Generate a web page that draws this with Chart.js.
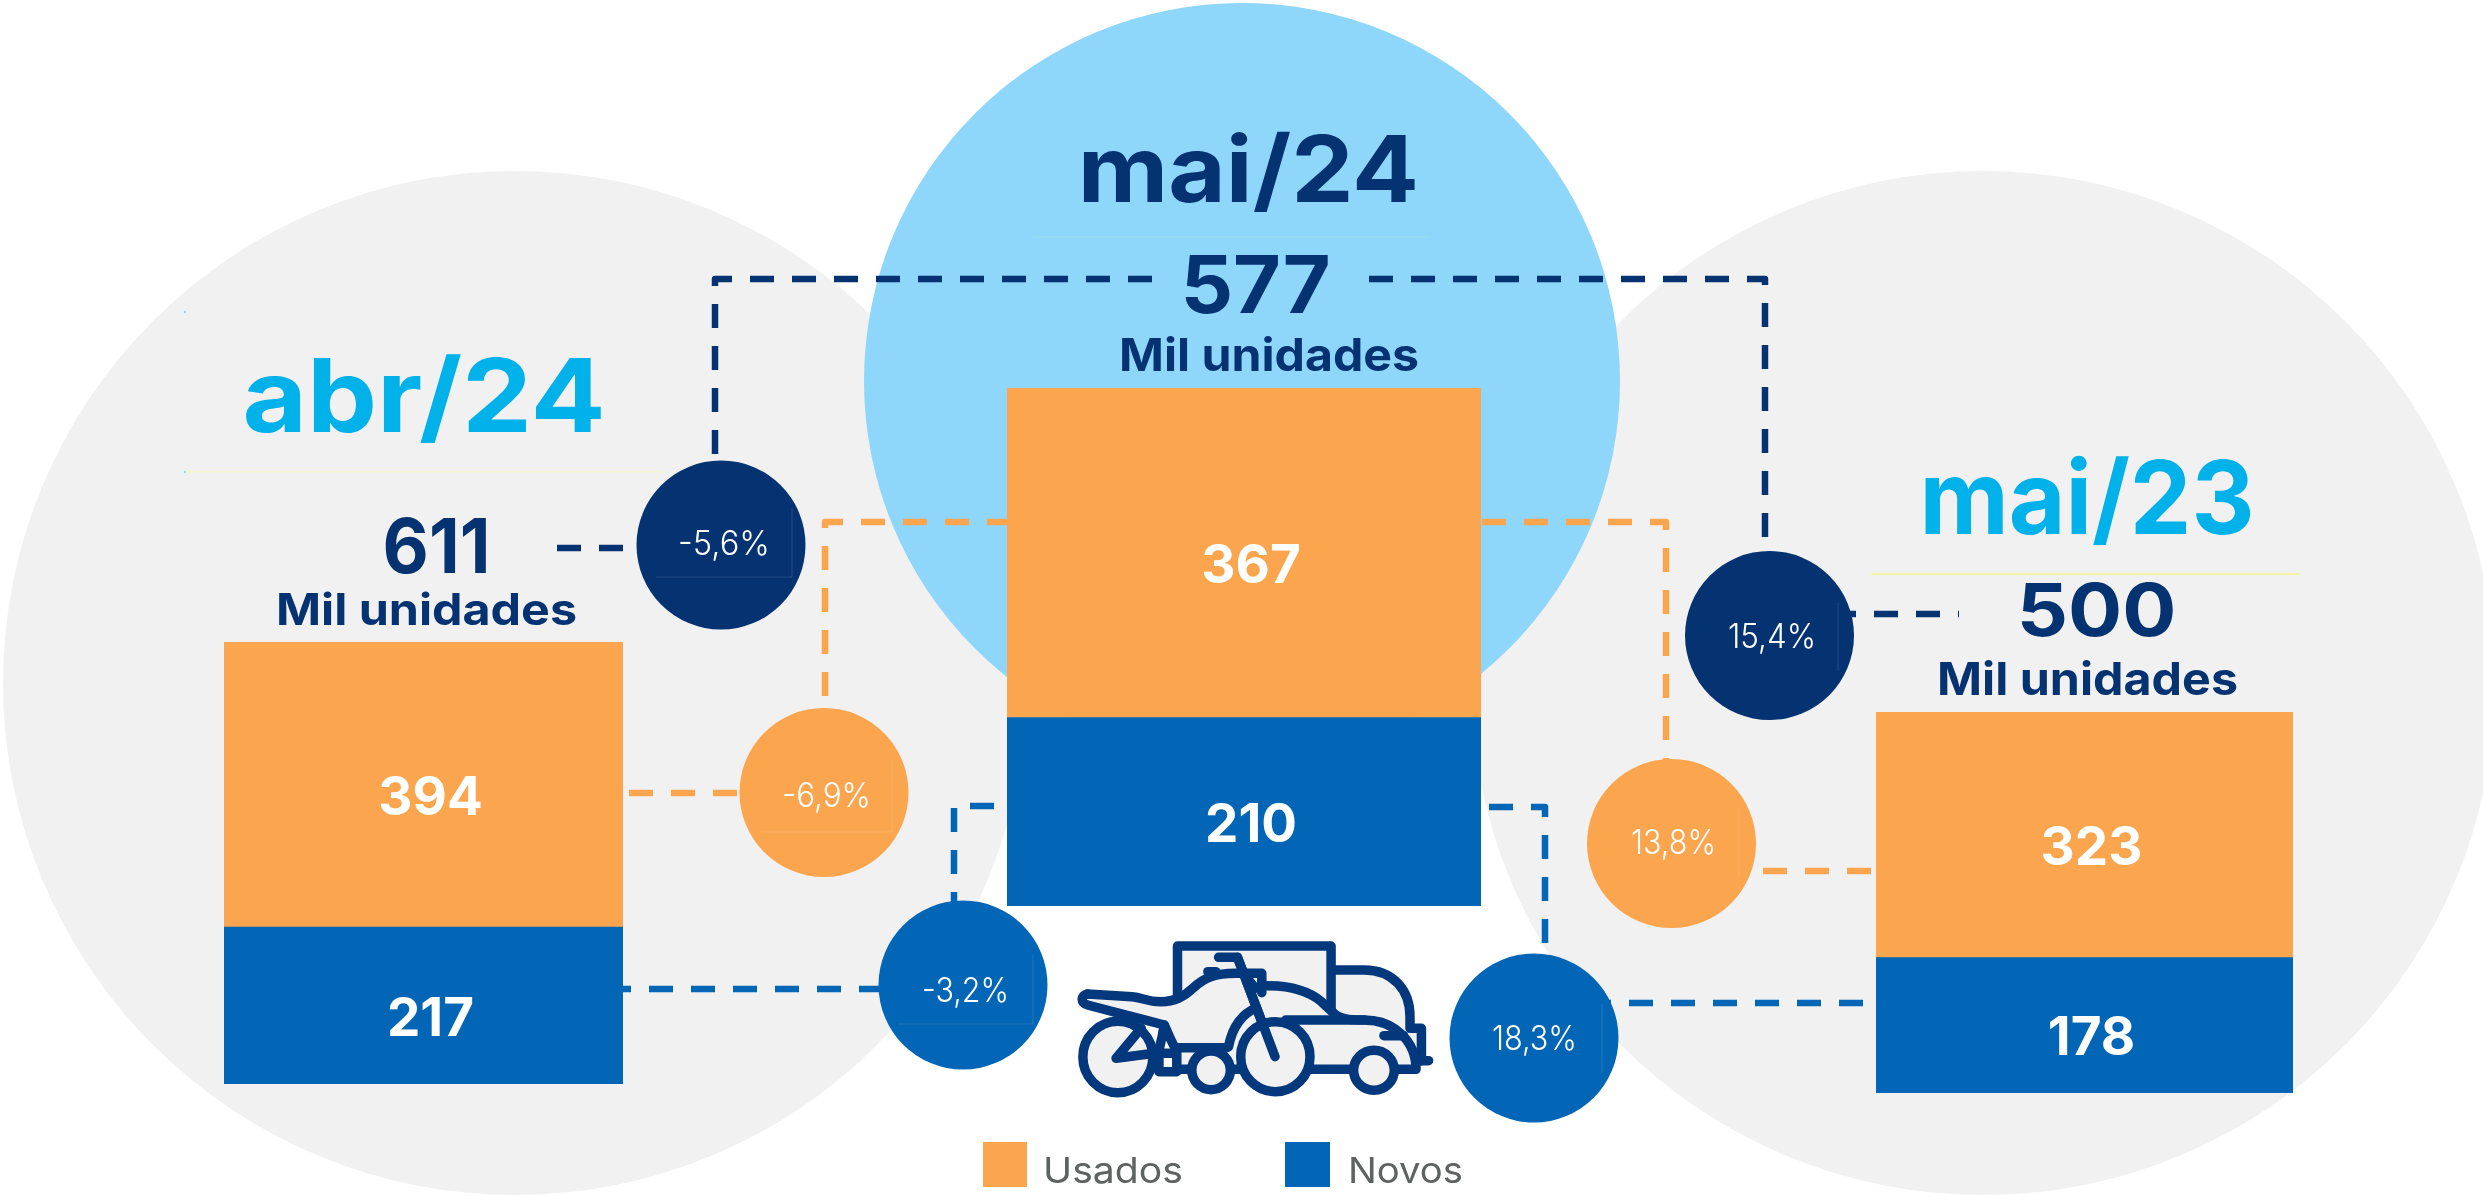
<!DOCTYPE html>
<html lang="pt">
<head>
<meta charset="utf-8">
<title>Vendas de veículos</title>
<script src="https://cdn.jsdelivr.net/npm/chart.js@4/dist/chart.umd.min.js"></script>
<style>
html,body{margin:0;padding:0;background:#fff}
#stage{position:relative;width:2483px;height:1196px;overflow:hidden;background:#fff;font-family:Inter,sans-serif}
#stage svg{position:absolute;left:0;top:0}
.bar{position:absolute}
.bar canvas{display:block}
</style>
</head>
<body>
<div id="stage">
<svg id="back" width="2483" height="1196" viewBox="0 0 2483 1196"></svg>
<div class="bar" id="barHost0"><canvas id="bar0"></canvas></div>
<div class="bar" id="barHost1"><canvas id="bar1"></canvas></div>
<div class="bar" id="barHost2"><canvas id="bar2"></canvas></div>
<svg id="front" width="2483" height="1196" viewBox="0 0 2483 1196"></svg>
</div>
<script>
// ---- data ----
const categories = ['abr/24', 'mai/24', 'mai/23'];
const usados = [394, 367, 323];
const novos = [217, 210, 178];
const totals = [611, 577, 500];
const unitLabel = 'Mil unidades';
const seriesNames = ['Usados', 'Novos'];
const varTotal = ['-5,6%', '15,4%'];
const varUsados = ['-6,9%', '13,8%'];
const varNovos = ['-3,2%', '18,3%'];

// ---- styles ----
const ORANGE = '#fba54f', BLUE = '#0365b5', NAVY = '#053372', CYAN = '#00b1ea',
      GREY = '#f1f1f1', SKY = '#8fd6fb', LEGEND = '#5e6362';
const FONT = 'Inter, sans-serif';

// ---- layout ----
const barBoxes = [
  {x: 224, y: 642, w: 399, h: 442},
  {x: 1007, y: 388, w: 474, h: 518},
  {x: 1876, y: 712, w: 417, h: 381}
];

const NS = 'http://www.w3.org/2000/svg';
function el(parent, tag, attrs, text) {
  const n = document.createElementNS(NS, tag);
  for (const k in attrs) n.setAttribute(k, attrs[k]);
  if (text !== undefined) n.textContent = text;
  parent.appendChild(n);
  return n;
}
const back = document.getElementById('back');
const front = document.getElementById('front');

// background discs
el(back, 'circle', {cx: 515, cy: 683, r: 512, fill: GREY});
el(back, 'circle', {cx: 1983, cy: 683, r: 512, fill: GREY});
el(back, 'circle', {cx: 1242, cy: 381, r: 378, fill: SKY});

// hairlines
el(back, 'rect', {x: 185, y: 471, width: 478, height: 1.5, fill: '#f4f5cc'});
el(back, 'rect', {x: 1871, y: 573, width: 429, height: 2, fill: '#f6f6a6'});
el(back, 'rect', {x: 1034, y: 236.5, width: 396, height: 1, fill: '#9bdceb'});
el(back, 'rect', {x: 184, y: 311, width: 2, height: 2, fill: SKY});
el(back, 'rect', {x: 184, y: 471, width: 2, height: 2, fill: SKY});

// dashed connectors
const dashes = [
  ['M715 454V279H1153', NAVY],
  ['M1369 279H1765V538', NAVY],
  ['M557 548H623', NAVY],
  ['M1832 614H1959', NAVY],
  ['M825 696V522H1007', ORANGE],
  ['M1482 522H1666V761', ORANGE],
  ['M629 793H737', ORANGE],
  ['M1763 871H1871', ORANGE],
  ['M607 989H880', BLUE],
  ['M954 916V806H1007', BLUE],
  ['M1489 807H1545V945', BLUE],
  ['M1587 1003H1863', BLUE]
];
dashes.forEach(d => el(back, 'path', {d: d[0], fill: 'none', stroke: d[1], 'stroke-width': 6.5,
  'stroke-dasharray': '24 18', 'stroke-linejoin': 'round'}));

// change bubbles
const bubbles = [
  {cx: 721, cy: 545, c: NAVY, t: varTotal[0], x1: 678, x2: 770, y: 555, e: 'M792 508V577H656'},
  {cx: 1769.5, cy: 635.5, c: NAVY, t: varTotal[1], x1: 1728, x2: 1816, y: 648, e: 'M1838 603V671'},
  {cx: 824, cy: 792.5, c: ORANGE, t: varUsados[0], x1: 782, x2: 871, y: 807, e: 'M892 759V832H762'},
  {cx: 1671.5, cy: 843.5, c: ORANGE, t: varUsados[1], x1: 1631, x2: 1716, y: 854, e: 'M1739 808V876'},
  {cx: 963, cy: 985, c: BLUE, t: varNovos[0], x1: 922, x2: 1009, y: 1002, e: 'M1033 955V1024H898'},
  {cx: 1534, cy: 1038, c: BLUE, t: varNovos[1], x1: 1492, x2: 1577, y: 1050, e: 'M1602 1004V1073'}
];
bubbles.forEach(b => {
  el(front, 'circle', {cx: b.cx, cy: b.cy, r: 84.5, fill: b.c});
  el(front, 'path', {d: b.e, fill: 'none', stroke: '#ffffff', 'stroke-opacity': .13, 'stroke-width': 1});
  el(front, 'text', {x: b.x1, y: b.y, fill: '#fff', 'font-family': FONT, 'font-weight': 300, 'font-size': 34,
    textLength: b.x2 - b.x1, lengthAdjust: 'spacingAndGlyphs'}, b.t);
});

// headings
function label(txt, x1, x2, y, size, weight, color) {
  const pad = Math.max(3, 0.045 * size);
  el(front, 'text', {x: x1 - pad, y: y, fill: color, 'font-family': FONT, 'font-weight': weight, 'font-size': size,
    textLength: x2 - x1 + 2 * pad, lengthAdjust: 'spacingAndGlyphs'}, txt);
}
label(categories[0], 247, 601, 432, 102, 700, CYAN);
label(categories[1], 1082, 1415, 202, 92, 700, NAVY);
label(categories[2], 1924, 2250, 534, 102, 700, CYAN);
label(String(totals[0]), 386, 487, 573, 76, 700, NAVY);
label(String(totals[1]), 1184, 1327, 313, 80, 700, NAVY);
label(String(totals[2]), 2020, 2173, 636, 73, 700, NAVY);
label(unitLabel, 279, 574, 625, 44, 700, NAVY);
label(unitLabel, 1122, 1416, 371, 45, 700, NAVY);
label(unitLabel, 1940, 2235, 695, 45, 700, NAVY);

// legend
el(front, 'rect', {x: 983, y: 1142, width: 44, height: 45, fill: ORANGE});
el(front, 'rect', {x: 1285, y: 1142, width: 45, height: 45, fill: BLUE});
label(seriesNames[0], 1046, 1180, 1183, 36, 400, LEGEND);
label(seriesNames[1], 1351, 1460, 1183, 36, 400, LEGEND);

// vehicle pictogram (drawn in a local grid)
const icon = el(front, 'g', {transform: 'translate(1000 880) scale(0.35714 0.33333)'});
const st = {fill: 'none', stroke: '#03387c', 'stroke-width': 9.5, 'stroke-linecap': 'round', 'stroke-linejoin': 'round', 'vector-effect': 'non-scaling-stroke'};
const filled = Object.assign({}, st, {fill: GREY});
el(icon, 'path', {d: 'M497 345V198H927V270H1020C1100 270 1148 330 1148 410V445H1178V568H497Z', fill: GREY});
[
  'M497 345V198H927V390',
  'M935 270H1020C1100 270 1148 330 1148 410V445H1180V542',
  'M1170 542H1200'
].forEach(d => el(icon, 'path', Object.assign({d}, st)));
el(icon, 'path', {d: 'M245 342L370 350C400 353 410 365 450 365C490 365 515 350 540 325C570 295 600 278 670 280H733V340H640V505H490C480 485 475 470 460 435L245 375C225 365 225 345 245 342Z', fill: GREY});
[
  'M245 342L370 350C400 353 410 365 450 365C490 365 515 350 540 325C570 295 600 278 670 280H733V338',
  'M245 342C225 345 225 370 245 375L460 435C475 470 480 485 490 503H635',
  'M733 318C800 315 860 330 900 365L940 405C960 420 990 420 1020 420C1100 420 1165 480 1165 568H1110',
  'M800 420H1020',
  'M1075 467H1130',
  'M870 568H985',
  'M500 568H530',
  'M655 568H680',
  'M460 435C455 470 450 490 445 510V575H495V520H445',
  'M612 232H665L770 530',
  'M582 275H604',
  'M640 500C650 440 680 400 715 385',
  'M395 445L325 535L440 515',
  'M700 305L715 325'
].forEach(d => el(icon, 'path', Object.assign({d}, st)));
[[330, 531, 98, 107], [591, 571, 54, 58], [771, 530, 97, 105], [1047, 571, 57, 60]].forEach(w =>
  el(icon, 'ellipse', Object.assign({cx: w[0], cy: w[1], rx: w[2], ry: w[3]}, filled)));
el(icon, 'path', Object.assign({d: 'M395 445L325 535L416 522'}, st));
el(icon, 'path', Object.assign({d: 'M665 232L770 530'}, st));

// value labels inside each stacked segment
const segmentLabels = {
  id: 'segmentLabels',
  afterDatasetsDraw(chart) {
    const ctx = chart.ctx;
    ctx.save();
    ctx.fillStyle = '#fff';
    ctx.font = '700 53px ' + FONT;
    ctx.textAlign = 'center';
    ctx.textBaseline = 'alphabetic';
    chart.data.datasets.forEach((ds, i) => {
      chart.getDatasetMeta(i).data.forEach((bar, j) => {
        const p = bar.getProps(['x', 'y', 'base'], true);
        ctx.fillText(String(ds.data[j]), p.x + 7, (p.y + p.base) / 2 + 30);
      });
    });
    ctx.restore();
  }
};

// one stacked bar per period, each on its own scale as in the original
categories.forEach((cat, i) => {
  const box = barBoxes[i];
  const host = document.getElementById('barHost' + i);
  host.style.cssText = `left:${box.x}px;top:${box.y}px;width:${box.w}px;height:${box.h}px`;
  const canvas = document.getElementById('bar' + i);
  canvas.width = box.w; canvas.height = box.h;
  new Chart(canvas, {
    type: 'bar',
    data: {
      labels: [cat],
      datasets: [
        {label: seriesNames[1], data: [novos[i]], backgroundColor: BLUE, borderWidth: 0, barPercentage: 1, categoryPercentage: 1},
        {label: seriesNames[0], data: [usados[i]], backgroundColor: ORANGE, borderWidth: 0, barPercentage: 1, categoryPercentage: 1}
      ]
    },
    options: {
      responsive: false,
      animation: false,
      layout: {padding: 0},
      plugins: {legend: {display: false}, tooltip: {enabled: false}, title: {display: false}},
      scales: {
        x: {stacked: true, display: false, grid: {display: false}},
        y: {stacked: true, display: false, min: 0, max: usados[i] + novos[i], grid: {display: false}}
      }
    },
    plugins: [segmentLabels]
  });
});
</script>
</body>
</html>
